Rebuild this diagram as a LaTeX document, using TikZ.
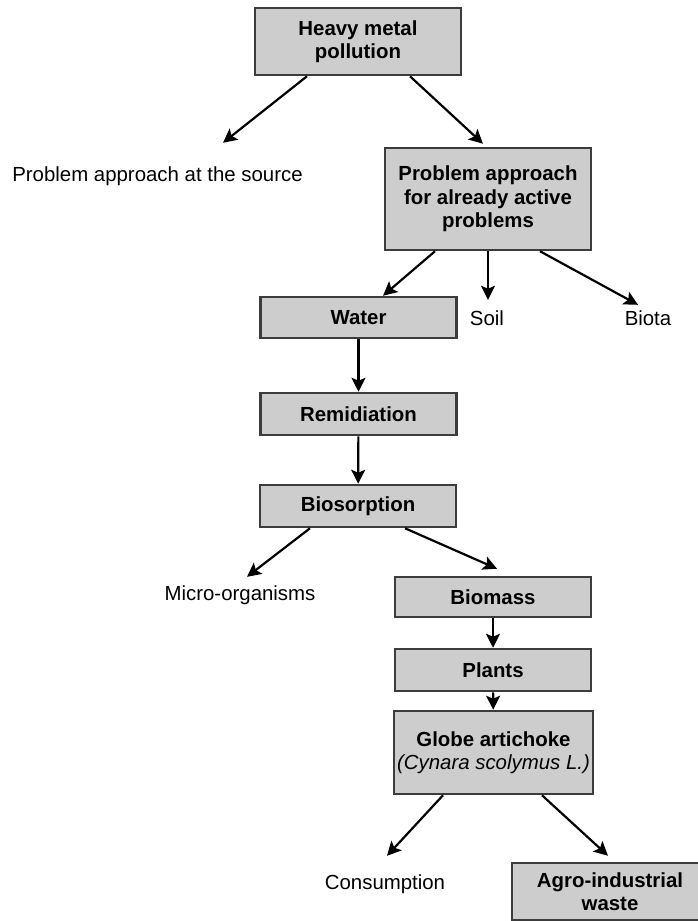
\documentclass[tikz,border=0pt]{standalone}
\usepackage{fontspec}
\setmainfont{Liberation Sans}
\usetikzlibrary{arrows.meta}
\definecolor{boxgray}{HTML}{CDCDCD}
\definecolor{edgegray}{HTML}{3C3C3C}

\begin{document}
\begin{tikzpicture}[
    x=1pt, y=-1pt,
    block/.style={rectangle, draw=edgegray, fill=boxgray, line width=2.5pt,
                  minimum width=196pt, minimum height=42pt, align=center,
                  font=\fontsize{20.4}{23.5}\selectfont\bfseries},
    plaintext/.style={inner sep=0pt, text height=15pt, text depth=4pt,
                  font=\fontsize{20.4}{23.5}\selectfont},
    arrow/.style={-{Stealth[length=14pt, width=14pt, inset=3pt]}, line width=2.2pt, black}
]
    \useasboundingbox (0,0) rectangle (697,921);

    % Top level
    \node[block, minimum width=206pt, minimum height=67pt] (pollution) at (358,41.5) {Heavy metal\\pollution};
    \node[plaintext] (source) at (157.5,176) {Problem approach at the source};
    \node[block, minimum width=206pt, minimum height=102pt] (active) at (488,199) {Problem approach\\for already active\\problems};

    % Compartments
    \node[block, minimum height=41pt] (water) at (358.5,317.5) {Water};
    \node[plaintext] (soil) at (487,320) {Soil};
    \node[plaintext] (biota) at (648,320) {Biota};

    % Water branch
    \node[block] (remidiation) at (358.5,414) {Remidiation};
    \node[block] (biosorption) at (358,506) {Biosorption};
    \node[plaintext] (micro) at (240,595) {Micro-organisms};
    \node[block, minimum height=40pt] (biomass) at (493,597) {Biomass};
    \node[block] (plants) at (493,670) {Plants};
    \node[block, minimum height=83pt] (artichoke) at (493.5,752.5) {Globe artichoke\\{\mdseries\itshape(Cynara scolymus L.)}};
    \node[plaintext] (consumption) at (385,884) {Consumption};
    \node[block, minimum height=57pt] (waste) at (610,891.5) {Agro-industrial\\waste};

    % Arrows
    \draw[arrow] ([xshift=-51pt]pollution.south) -- ([xshift=65.5pt, yshift=23.5pt]source.north);
    \draw[arrow] ([xshift=52pt]pollution.south) -- ([xshift=-5pt, yshift=3pt]active.north);
    \draw[arrow] ([xshift=-53pt]active.south) -- ([xshift=24.5pt]water.north);
    \draw[arrow] (active.south) -- ([xshift=1pt, yshift=10.5pt]soil.north);
    \draw[arrow] ([xshift=52pt]active.south) -- ([xshift=-10pt, yshift=5.5pt]biota.north);
    \draw[arrow] (water) -- (remidiation);
    \draw[arrow] (remidiation) -- (biosorption);
    \draw[arrow] ([xshift=-48pt]biosorption.south) -- ([xshift=7pt, yshift=8.5pt]micro.north);
    \draw[arrow] ([xshift=47pt]biosorption.south) -- ([xshift=4pt, yshift=7pt]biomass.north);
    \draw[arrow] (biomass) -- (plants);
    \draw[arrow] (plants) -- (artichoke);
    \draw[arrow] ([xshift=-50.5pt]artichoke.south) -- ([xshift=2pt, yshift=18.5pt]consumption.north);
    \draw[arrow] ([xshift=48.5pt]artichoke.south) -- ([xshift=-2pt, yshift=6pt]waste.north);

\end{tikzpicture}
\end{document}
